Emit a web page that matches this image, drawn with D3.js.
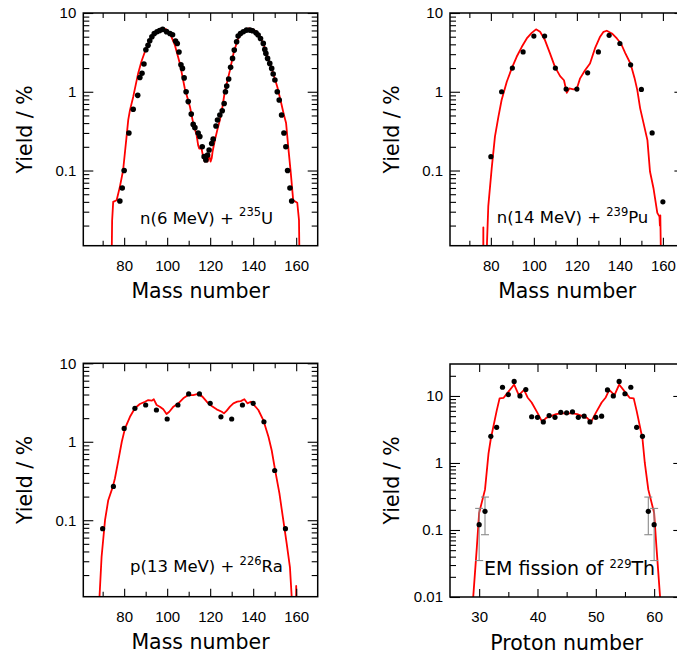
<!DOCTYPE html>
<html><head><meta charset="utf-8">
<script src="https://cdn.jsdelivr.net/npm/d3@7"></script>
<style>
body{margin:0;background:#fff;}
svg{display:block;}
</style></head><body>
<svg id="chart" width="677" height="657"></svg>
<script>
// ---------- Data: n(6 MeV) + 235U ----------
const u235_A = [78.0,79.1,80.0,82.2,84.2,86.3,87.3,88.3,89.2,90.1,91.1,91.9,92.9,94.0,95.3,96.5,97.9,99.7,101.3,102.5,103.9,104.7,105.5,106.4,107.1,107.9,108.8,109.8,111.2,112.1,112.9,114.4,115.2,116.3,117.2,118.0,118.8,119.5,120.7,121.4,122.7,123.4,124.5,125.6,126.5,127.1,127.7,128.6,129.5,130.4,131.2,132.3,133.0,134.1,135.4,136.9,138.5,139.7,141.3,142.3,143.4,144.7,145.4,145.9,146.7,147.7,148.6,149.3,150.1,151.2,152.1,153.2,154.3,155.2,156.0,157.1,157.9];
const u235_yield = [0.041,0.06,0.10,0.30,0.60,0.90,1.52,1.72,2.25,3.42,3.9,4.44,5.0,5.5,5.77,6.0,6.2,5.8,5.5,5.3,4.4,4.1,3.2,2.2,1.98,1.5,1.0,0.75,0.52,0.385,0.35,0.30,0.27,0.20,0.15,0.136,0.157,0.182,0.22,0.25,0.367,0.437,0.506,0.574,0.71,1.0,1.18,1.45,2.04,2.65,3.38,4.31,5.09,5.5,5.77,6.07,6.07,5.94,5.6,5.25,4.75,4.11,3.45,3.07,2.65,2.29,1.98,1.68,1.41,1.0,0.785,0.506,0.30,0.20,0.10,0.06,0.041];
const u235_calcA = [74.1,74.4,74.9,76.5,78.0,79.5,81.0,81.9,82.7,84.2,86.5,88.0,89.6,91.2,93.5,95.8,97.4,99.4,101.3,103.6,105.9,108.2,110.6,112.1,113.7,114.4,114.9,116.0,116.7,117.5,118.3,118.8,119.5,120.2,120.7,121.1,122.2,123.3,124.5,125.7,126.8,129.2,131.0,133.0,135.4,137.7,140.0,142.3,144.7,147.0,149.3,151.2,152.7,154.3,155.3,156.3,157.5,158.6,160.5,161.3,161.6];
const u235_calcYield = [0.005,0.023,0.040,0.042,0.062,0.10,0.25,0.44,0.585,0.86,1.71,2.4,3.2,4.1,5.25,6.07,6.37,6.25,5.5,3.9,2.29,1.1,0.645,0.40,0.28,0.21,0.19,0.19,0.15,0.13,0.15,0.13,0.157,0.13,0.143,0.173,0.244,0.326,0.437,0.645,1.0,1.88,3.2,4.75,5.77,6.37,6.2,5.5,4.11,2.65,1.71,1.16,0.785,0.506,0.40,0.2,0.092,0.042,0.039,0.0235,0.005];

// ---------- Data: n(14 MeV) + 239Pu ----------
const pu239_A = [80,85,90,95,100,105,110,115,120,125,130,135,140,145,150,155,160];
const pu239_yield = [0.15,1.0,2.0,3.2,5.1,5.1,2.0,1.08,1.08,1.74,3.2,5.2,4.1,2.2,1.07,0.30,0.040];
const pu239_calcA = [76.4,76.5,76.6,77.9,78.2,78.8,80.4,81.9,83.5,85.0,87.4,89.7,92.0,94.4,96.7,99.0,101.0,102.9,105.2,107.5,109.8,112.2,114.0,115.3,116.5,118.4,120.0,121.5,123.8,126.1,128.4,130.8,132.4,133.9,136.3,138.6,140.5,142.5,145.0,146.8,148.1,149.4,151.0,152.8,154.0,155.6,157.4,158.4,158.6,158.8,159.2];
const pu239_calcYield = [0.001,0.019,0.001,0.001,0.012,0.035,0.107,0.27,0.48,0.785,1.34,1.98,2.78,3.72,4.75,5.6,6.2,5.77,4.5,3.07,2.07,1.58,1.4,0.97,1.1,1.07,1.1,1.48,1.88,2.29,3.55,5.0,5.77,5.95,5.5,4.75,4.1,3.1,2.25,1.5,1.05,0.62,0.40,0.243,0.097,0.06,0.029,0.026,0.02,0.027,0.005];

// ---------- Data: p(13 MeV) + 226Ra ----------
const ra226_A = [70,75,80,85,90,95,100,105,110,115,120,125,130,135,140,145,150,155];
const ra226_yield = [0.078,0.27,1.48,2.67,2.94,2.54,1.95,2.94,4.07,4.07,3.09,2.08,1.95,2.94,3.09,1.8,0.43,0.078];
const ra226_calcA = [68.4,69.5,71.1,72.6,74.7,75.7,77.3,78.9,80.4,82.7,85.0,87.3,89.7,91.2,92.8,93.8,95.1,96.6,98.2,99.7,101.0,102.9,105.2,107.5,109.8,112.1,114.4,116.4,118.4,120.7,123.0,125.4,126.4,127.7,129.2,130.8,132.6,134.2,135.9,137.3,138.9,140.4,142.4,144.7,147.1,148.6,150.2,152.2,154.0,155.6,157.1,158.6,159.9,160.0,160.1];
const ra226_calcYield = [0.009,0.034,0.1,0.18,0.266,0.34,0.58,1.0,1.48,2.08,2.67,3.03,3.24,3.4,3.34,3.48,2.94,2.8,2.59,2.26,2.41,2.8,3.09,3.58,3.94,3.94,4.07,3.76,3.24,2.86,2.59,2.41,2.3,2.49,2.8,3.09,3.24,3.3,3.48,3.09,3.24,2.94,2.54,1.89,1.16,0.78,0.435,0.22,0.1,0.05,0.025,0.005,0.005,0.0145,0.005];

// ---------- Data: EM fission of 229Th ----------
const th229_Z = [30,31,32,33,34,35,36,37,38,39,40,41,42,43,44,45,46,47,48,49,50,51,52,53,54,55,56,57,58,59,60];
const th229_yield = [0.12,0.19,2.5,3.4,13.5,10.5,16.5,10,12.5,4.9,4.8,4.1,5.1,4.8,5.7,5.6,5.8,4.8,5.0,4.1,4.8,5.0,12.3,10,16.5,10.8,13.5,3.4,2.5,0.19,0.12];
const th229_errZ = [30,31,59,60];
const th229_errLo = [0.035,0.085,0.085,0.035];
const th229_errHi = [0.21,0.31,0.31,0.21];
const th229_calcZ = [28.9,29.6,30.0,31.0,31.6,32.0,33.0,33.5,34.2,35.0,36.0,36.8,37.7,38.3,39.0,40.0,40.8,41.5,42.3,43.2,44.0,45.0,46.0,46.8,47.7,48.5,49.2,50.0,51.0,51.7,52.3,53.2,54.0,55.0,55.8,56.5,57.0,58.0,58.4,59.0,60.0,60.4,61.1];
const th229_calcYield = [0.008,0.055,0.18,0.40,1.38,2.3,6.0,9.2,9.4,11.5,14.8,10.3,12.3,9.5,8.0,5.6,4.1,4.7,5.0,5.35,5.5,5.5,5.5,5.35,5.0,4.7,4.1,5.6,8.0,9.5,12.3,10.3,14.8,11.5,9.4,9.2,6.0,2.3,1.0,0.40,0.18,0.055,0.008];

// ---------- Axis ticks and labels ----------
const massMajorTicks = [80,100,120,140,160];
const massMinorTicks = [70,90,110,130,150];
const protonMajorTicks = [30,40,50,60];
const protonMinorTicks = [35,45,55];
const yTicks3 = [0.1,1,10];
const yTicks4 = [0.01,0.1,1,10];
const yTickLabel = {0.01:"0.01",0.1:"0.1",1:"1",10:"10"};

const svg = d3.select("#chart");
const TICKFONT = "'Liberation Sans', Arial, sans-serif";
const TITLEFONT = "'DejaVu Sans', sans-serif";

const panels = [
  {id:1, left:83.3, right:317.7, top:13, bottom:245.7, xDomain:[61,170], yDomain:[0.0111,10],
   px:u235_A, py:u235_yield, cx:u235_calcA, cy:u235_calcYield, r:2.8,
   xMajor:massMajorTicks, xMinor:massMinorTicks, yMajor:yTicks3, xTitle:"Mass number",
   label:["n(6 MeV) + ","235","U"], labelDx:56.7, labelDy:22.2, labelSize:16.5},
  {id:2, left:450, right:684.4, top:13, bottom:245.7, xDomain:[61,170], yDomain:[0.0111,10],
   px:pu239_A, py:pu239_yield, cx:pu239_calcA, cy:pu239_calcYield, r:2.6,
   xMajor:massMajorTicks, xMinor:massMinorTicks, yMajor:yTicks3, xTitle:"Mass number",
   label:["n(14 MeV) + ","239","Pu"], labelDx:46.7, labelDy:22.4, labelSize:16.5},
  {id:3, left:83.3, right:317.7, top:363.3, bottom:596.7, xDomain:[61,170], yDomain:[0.0106,10],
   px:ra226_A, py:ra226_yield, cx:ra226_calcA, cy:ra226_calcYield, r:2.6,
   xMajor:massMajorTicks, xMinor:massMinorTicks, yMajor:yTicks3, xTitle:"Mass number",
   label:["p(13 MeV) + ","226","Ra"], labelDx:46.7, labelDy:24.4, labelSize:16.5},
  {id:4, left:450, right:683.3, top:364, bottom:597, xDomain:[25,65], yDomain:[0.01,30],
   px:th229_Z, py:th229_yield, cx:th229_calcZ, cy:th229_calcYield, r:2.6,
   ex:th229_errZ, elo:th229_errLo, ehi:th229_errHi,
   xMajor:protonMajorTicks, xMinor:protonMinorTicks, yMajor:yTicks4, xTitle:"Proton number",
   label:["EM fission of ","229","Th"], labelDx:34, labelDy:22, labelSize:19}
];

function minorLogTicks(domain){
  const out=[];
  const lo=Math.floor(Math.log10(domain[0])), hi=Math.ceil(Math.log10(domain[1]));
  for(let d=lo; d<=hi; d++){
    for(let k=2;k<=9;k++){
      const v=k*Math.pow(10,d);
      if(v>=domain[0]*1.0001 && v<=domain[1]*0.9999) out.push(v);
    }
  }
  return out;
}

panels.forEach(p=>{
  const g = svg.append("g");
  const x = d3.scaleLinear().domain(p.xDomain).range([p.left,p.right]);
  const y = d3.scaleLog().domain(p.yDomain).range([p.bottom,p.top]);
  const w = p.right-p.left, h = p.bottom-p.top;
  const clipId = "clip"+p.id;
  svg.append("clipPath").attr("id",clipId).append("rect")
    .attr("x",p.left).attr("y",p.top).attr("width",w).attr("height",h);

  // calculation curve
  const lineData = p.cx.map((v,i)=>[v,p.cy[i]]);
  g.append("path").datum(lineData)
    .attr("clip-path",`url(#${clipId})`)
    .attr("d", d3.line().x(d=>x(d[0])).y(d=>y(d[1])))
    .attr("fill","none").attr("stroke","#ff0000").attr("stroke-width",1.8)
    .attr("stroke-linejoin","round");

  // error bars
  if(p.ex){
    const eg = g.append("g").attr("stroke","#8a8a8a").attr("stroke-width",1.1);
    p.ex.forEach((v,i)=>{
      const xx=x(v);
      eg.append("line").attr("x1",xx).attr("x2",xx).attr("y1",y(p.elo[i])).attr("y2",y(p.ehi[i]));
      eg.append("line").attr("x1",xx-4).attr("x2",xx+4).attr("y1",y(p.elo[i])).attr("y2",y(p.elo[i]));
      eg.append("line").attr("x1",xx-4).attr("x2",xx+4).attr("y1",y(p.ehi[i])).attr("y2",y(p.ehi[i]));
    });
  }

  // data points
  g.append("g").selectAll("circle").data(p.px.map((v,i)=>[v,p.py[i]])).join("circle")
    .attr("cx",d=>x(d[0])).attr("cy",d=>y(d[1])).attr("r",p.r).attr("fill","#000");

  // axes
  const yMinor = minorLogTicks(p.yDomain);
  const styleAxis = sel => { sel.select(".domain").remove();
    sel.selectAll("line").attr("stroke","#000").attr("stroke-width",1.1); };

  g.append("g").attr("transform",`translate(${p.left},0)`)
    .call(d3.axisLeft(y).tickValues(p.yMajor).tickSizeInner(-10).tickSizeOuter(0).tickPadding(7)
      .tickFormat(d=>yTickLabel[d]))
    .call(styleAxis)
    .call(s=>s.selectAll("text").attr("font-family",TICKFONT).attr("font-size",15).attr("fill","#000"));
  g.append("g").attr("transform",`translate(${p.left},0)`)
    .call(d3.axisLeft(y).tickValues(yMinor).tickSizeInner(-6).tickSizeOuter(0).tickFormat(""))
    .call(styleAxis);
  g.append("g").attr("transform",`translate(${p.right},0)`)
    .call(d3.axisRight(y).tickValues(p.yMajor).tickSizeInner(-10).tickSizeOuter(0).tickFormat(""))
    .call(styleAxis);
  g.append("g").attr("transform",`translate(${p.right},0)`)
    .call(d3.axisRight(y).tickValues(yMinor).tickSizeInner(-6).tickSizeOuter(0).tickFormat(""))
    .call(styleAxis);

  g.append("g").attr("transform",`translate(0,${p.bottom})`)
    .call(d3.axisBottom(x).tickValues(p.xMajor).tickSizeInner(-8).tickSizeOuter(0).tickPadding(14.3))
    .call(styleAxis)
    .call(s=>s.selectAll("text").attr("font-family",TICKFONT).attr("font-size",15).attr("fill","#000"));
  g.append("g").attr("transform",`translate(0,${p.bottom})`)
    .call(d3.axisBottom(x).tickValues(p.xMinor).tickSizeInner(-5).tickSizeOuter(0).tickFormat(""))
    .call(styleAxis);
  g.append("g").attr("transform",`translate(0,${p.top})`)
    .call(d3.axisTop(x).tickValues(p.xMajor).tickSizeInner(-8).tickSizeOuter(0).tickFormat(""))
    .call(styleAxis);
  g.append("g").attr("transform",`translate(0,${p.top})`)
    .call(d3.axisTop(x).tickValues(p.xMinor).tickSizeInner(-5).tickSizeOuter(0).tickFormat(""))
    .call(styleAxis);

  // frame
  g.append("rect").attr("x",p.left).attr("y",p.top).attr("width",w).attr("height",h)
    .attr("fill","none").attr("stroke","#000").attr("stroke-width",1.5);

  // titles
  g.append("text").attr("x",(p.left+p.right)/2).attr("y",p.bottom+52.5)
    .attr("text-anchor","middle").attr("font-family",TITLEFONT).attr("font-size",20.5)
    .attr("fill","#000").text(p.xTitle);
  g.append("text").attr("transform",`translate(${p.left-51.5},${(p.top+p.bottom)/2}) rotate(-90)`)
    .attr("text-anchor","middle").attr("font-family",TITLEFONT).attr("font-size",20.5)
    .attr("fill","#000").text("Yield / %");

  // reaction label
  const t = g.append("text").attr("x",p.left+p.labelDx).attr("y",p.bottom-p.labelDy)
    .attr("font-family",TITLEFONT).attr("font-size",p.labelSize).attr("fill","#000");
  t.append("tspan").text(p.label[0]);
  t.append("tspan").attr("font-size",11.5).attr("dy",-7.5).text(p.label[1]);
  t.append("tspan").attr("dy",7.5).text(p.label[2]);
});
</script>
</body></html>
